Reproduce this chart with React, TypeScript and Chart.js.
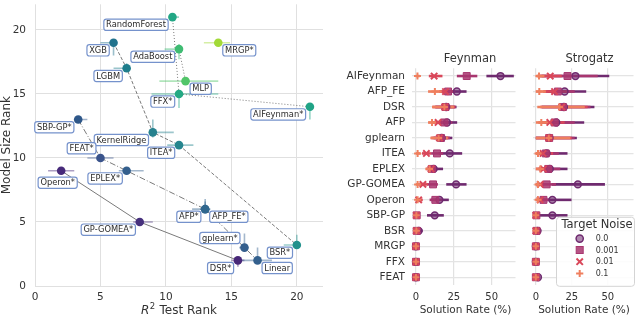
import React, { useEffect, useRef } from 'react';
import { Chart, registerables } from 'chart.js';

Chart.register(...registerables);

const FONT = "'DejaVu Sans', 'Noto Sans', sans-serif";
const TEXT = '#333333';

// ---------------- Left panel data (Pareto ranks) ----------------
const methods = ['RandomForest', 'XGB', 'AdaBoost', 'MRGP*', 'LGBM', 'MLP', 'FFX*', 'AIFeynman*', 'SBP-GP*', 'KernelRidge', 'ITEA*', 'FEAT*', 'EPLEX*', 'Operon*', 'AFP*', 'AFP_FE*', 'GP-GOMEA*', 'gplearn*', 'BSR*', 'DSR*', 'Linear'];
const r2TestRank = [10.5, 6, 11, 14, 7, 11.5, 11, 21, 3.3, 9, 11, 5, 7, 2, 13, 13, 8, 16, 20, 15.5, 17];
const modelSizeRank = [21, 19, 18.5, 19, 17, 16, 15, 14, 13, 12, 11, 10, 9, 9, 6, 6, 5, 3, 3.2, 2, 2];
const r2RankLo = [10.2, 5.0, 9.9, 12.9, 6.0, 9.5, 8.9, 20.8, 3.0, 8.8, 10.1, 4.0, 6.4, 1.0, 12.0, 12.6, 7.5, 15.6, 19.0, 15.0, 15.8];
const r2RankHi = [11.0, 6.2, 11.2, 14.9, 7.1, 14.0, 14.0, 21.2, 4.0, 10.6, 12.1, 6.0, 8.3, 3.0, 13.3, 13.4, 9.0, 16.3, 20.2, 16.0, 18.1];
const sizeRankLo = [20.8, 18.0, 17.7, 18.9, 16.8, 15.8, 13.9, 13.0, 12.8, 11.6, 10.8, 9.8, 8.8, 8.8, 5.8, 5.7, 4.9, 2.7, 2.9, 1.5, 1.8];
const sizeRankHi = [21.2, 19.2, 18.9, 19.1, 17.4, 16.3, 15.3, 14.2, 13.2, 13.0, 11.2, 10.2, 9.2, 9.2, 6.8, 6.6, 5.1, 4.1, 4.0, 2.1, 3.0];
const paretoFronts = [
  ['Operon*', 'GP-GOMEA*', 'DSR*'],
  ['SBP-GP*', 'FEAT*', 'EPLEX*', 'AFP*', 'gplearn*', 'Linear'],
  ['XGB', 'LGBM', 'KernelRidge', 'ITEA*', 'BSR*'],
  ['RandomForest', 'FFX*', 'AIFeynman*'],
  ['AdaBoost', 'MLP'],
];
const leftTicks = [0, 5, 10, 15, 20];

// ---------------- Right panels data (solution rates) ----------------
const categories = ['AIFeynman', 'AFP_FE', 'DSR', 'AFP', 'gplearn', 'ITEA', 'EPLEX', 'GP-GOMEA', 'Operon', 'SBP-GP', 'BSR', 'MRGP', 'FFX', 'FEAT'];
const noiseLevels = ['0.0', '0.001', '0.01', '0.1'];
const rateTicks = [0, 25, 50];

const feynman00 = [55.8, 27, 20, 20.5, 17, 22.3, 11.7, 26.5, 15.5, 12.4, 1.8, 0, 0, 0];
const feynman00Lo = [46.5, 21, 13, 15, 12, 15, 8, 20, 10, 7.3, 0, 0, 0, 0];
const feynman00Hi = [64.6, 33.4, 26.8, 27.2, 24, 30.5, 17.9, 33.4, 21.7, 18.4, 4.4, 0, 0, 0];
const feynman0001 = [33.5, 21.2, 19.5, 18.8, 16.5, 13.9, 10.5, 11.3, 12.8, 0.5, 0.5, 0, 0, 0];
const feynman0001Lo = [27, 16, 12.5, 14, 11, 10, 7, 7.5, 9, 0, 0, 0, 0, 0];
const feynman0001Hi = [40.5, 26, 26, 24, 22.5, 18, 14, 14.5, 17.5, 2.5, 2.5, 0, 0, 0];
const feynman001 = [12, 19.5, 19, 14.6, 15.5, 6.9, 10, 4.6, 1.8, 0.3, 0.3, 0, 0, 0];
const feynman001Lo = [8.5, 15, 11, 10, 10, 4, 7, 2, 0, 0, 0, 0, 0, 0];
const feynman001Hi = [17.5, 24, 26, 19, 21.5, 10, 13, 8, 4.5, 2, 1.5, 0, 0, 0];
const feynman01 = [1, 12.5, 18.8, 10.6, 15, 1.1, 9, 1.1, 1.1, 0.3, 0.3, 0, 0, 0];
const feynman01Lo = [0, 8, 10.6, 8, 9.5, 0, 6.2, 0, 0, 0, 0, 0, 0, 0];
const feynman01Hi = [2.5, 17, 25, 13.5, 21, 3, 12, 3.5, 3.5, 1.5, 1.5, 0, 0, 0];

const strogatz00 = [27.5, 20, 19.5, 14.2, 9.5, 7.5, 9.7, 29.2, 11.5, 11.5, 1.2, 0, 0, 1.5];
const strogatz00Lo = [4, 8, 4, 4, 0, 1, 2, 11, 3, 2, 0, 0, 0, 0];
const strogatz00Hi = [51, 35, 40.7, 33.6, 28.5, 22, 22, 48, 24.8, 22, 3, 0.5, 0.5, 3];
const strogatz0001 = [22, 15.3, 18.8, 13, 9.3, 6.9, 8.6, 7.5, 5.3, 0.4, 0.5, 0, 0, 0];
const strogatz0001Lo = [2, 6, 4, 4, 0, 1, 2, 2, 1, 0, 0, 0, 0, 0];
const strogatz0001Hi = [43, 27, 38, 27, 27, 16, 17, 14, 10, 2, 2, 0.5, 0.5, 0.5];
const strogatz001 = [10, 13, 18, 9.7, 9, 5, 5.3, 3, 3, 0, 0, 0, 0, 0];
const strogatz001Lo = [1, 5, 3, 2, 0, 0, 0, 0, 0, 0, 0, 0, 0, 0];
const strogatz001Hi = [18, 22, 36, 20, 25, 12, 12, 6, 6, 1, 1, 0.3, 0.3, 0.3];
const strogatz01 = [2.2, 2.4, 16.4, 3.8, 9, 1.5, 3.1, 1.5, 1.5, 0, 0, 0, 0, 0];
const strogatz01Lo = [0, 0, 1, 0, 0, 0, 0, 0, 0, 0, 0, 0, 0, 0];
const strogatz01Hi = [6, 7, 34, 10, 24, 5, 8, 3, 4, 1, 1, 0.3, 0.3, 0.3];

// ---------------- Styles ----------------
const methodColors: Record<string, string> = {
  'RandomForest': '#22a785', 'XGB': '#21728c', 'AdaBoost': '#3fbc73', 'MRGP*': '#a2da37',
  'LGBM': '#1f7e8c', 'MLP': '#52c569', 'FFX*': '#23a983', 'AIFeynman*': '#20a386',
  'SBP-GP*': '#2e5789', 'KernelRidge': '#26818e', 'ITEA*': '#25858e', 'FEAT*': '#3a548c',
  'EPLEX*': '#345f8d', 'Operon*': '#472a7a', 'AFP*': '#33638d', 'AFP_FE*': '#30678e',
  'GP-GOMEA*': '#46307d', 'gplearn*': '#355f8d', 'BSR*': '#21918c', 'DSR*': '#482878', 'Linear': '#34608d',
};
const labelPlacement: Record<string, string> = {
  'RandomForest': 'lb', 'XGB': 'lb', 'AdaBoost': 'lb', 'MRGP*': 'rb', 'LGBM': 'lb', 'MLP': 'rb',
  'FFX*': 'lb', 'AIFeynman*': 'lb', 'SBP-GP*': 'lb', 'KernelRidge': 'lb', 'ITEA*': 'lb', 'FEAT*': 'la',
  'EPLEX*': 'lb', 'Operon*': 'cb', 'AFP*': 'lb', 'AFP_FE*': 'rb', 'GP-GOMEA*': 'lb', 'gplearn*': 'la',
  'BSR*': 'lb', 'DSR*': 'lb', 'Linear': 'rb',
};
const frontDashes = [[], [6, 2, 1, 2], [3.5, 1.8], [1, 2], [1, 2]];
const noiseColors = ['#6f2a6f', '#a8366f', '#d9475a', '#ef7f5e'];
const noiseStyles = ['circle', 'rect', 'crossRot', 'cross'];

function rgba(hex: string, a: number) {
  const n = parseInt(hex.slice(1), 16);
  return `rgba(${(n >> 16) & 255},${(n >> 8) & 255},${n & 255},${a})`;
}

function roundRectPath(ctx: CanvasRenderingContext2D, x: number, y: number, w: number, h: number, r: number) {
  ctx.beginPath();
  ctx.moveTo(x + r, y);
  ctx.lineTo(x + w - r, y);
  ctx.quadraticCurveTo(x + w, y, x + w, y + r);
  ctx.lineTo(x + w, y + h - r);
  ctx.quadraticCurveTo(x + w, y + h, x + w - r, y + h);
  ctx.lineTo(x + r, y + h);
  ctx.quadraticCurveTo(x, y + h, x, y + h - r);
  ctx.lineTo(x, y + r);
  ctx.quadraticCurveTo(x, y, x + r, y);
  ctx.closePath();
}

function drawMarker(ctx: CanvasRenderingContext2D, k: number, x: number, y: number) {
  const c = noiseColors[k];
  ctx.save();
  if (k === 0) {
    ctx.beginPath(); ctx.arc(x, y, 3.6, 0, Math.PI * 2);
    ctx.fillStyle = rgba(c, 0.55); ctx.fill();
    ctx.strokeStyle = c; ctx.lineWidth = 1.5; ctx.stroke();
  } else if (k === 1) {
    ctx.fillStyle = rgba(c, 0.85); ctx.fillRect(x - 3.5, y - 3.5, 7, 7);
    ctx.strokeStyle = c; ctx.lineWidth = 1; ctx.strokeRect(x - 3.5, y - 3.5, 7, 7);
  } else if (k === 2) {
    ctx.strokeStyle = c; ctx.lineWidth = 2; ctx.beginPath();
    ctx.moveTo(x - 3.2, y - 3.2); ctx.lineTo(x + 3.2, y + 3.2);
    ctx.moveTo(x - 3.2, y + 3.2); ctx.lineTo(x + 3.2, y - 3.2); ctx.stroke();
  } else {
    ctx.strokeStyle = c; ctx.lineWidth = 2; ctx.beginPath();
    ctx.moveTo(x - 3.6, y); ctx.lineTo(x + 3.6, y);
    ctx.moveTo(x, y - 3.6); ctx.lineTo(x, y + 3.6); ctx.stroke();
  }
  ctx.restore();
}

// ---------------- Left chart ----------------
function buildLeft(canvas: HTMLCanvasElement) {
  const idx = (m: string) => methods.indexOf(m);
  const frontSets = paretoFronts.map((members, k) => ({
    type: 'scatter',
    label: 'front' + k,
    data: members.map((m) => ({ x: r2TestRank[idx(m)], y: modelSizeRank[idx(m)] })),
    showLine: true,
    borderColor: '#7a7a7a',
    borderWidth: 1,
    borderDash: frontDashes[k],
    pointRadius: 0,
    clip: false,
  }));
  const plugin = {
    id: 'leftDecor',
    beforeDatasetsDraw(chart: any) {
      const { ctx, scales: { x, y } } = chart;
      ctx.save();
      ctx.lineWidth = 1.6;
      methods.forEach((m, i) => {
        const px = x.getPixelForValue(r2TestRank[i]);
        const py = y.getPixelForValue(modelSizeRank[i]);
        ctx.strokeStyle = rgba(methodColors[m], 0.45);
        ctx.beginPath();
        ctx.moveTo(x.getPixelForValue(r2RankLo[i]), py);
        ctx.lineTo(x.getPixelForValue(r2RankHi[i]), py);
        ctx.moveTo(px, y.getPixelForValue(sizeRankLo[i]));
        ctx.lineTo(px, y.getPixelForValue(sizeRankHi[i]));
        ctx.stroke();
      });
      ctx.restore();
    },
    afterDatasetsDraw(chart: any) {
      const { ctx, scales: { x, y } } = chart;
      ctx.save();
      ctx.font = `8.3px ${FONT}`;
      ctx.textAlign = 'center';
      ctx.textBaseline = 'middle';
      methods.forEach((m, i) => {
        const px = x.getPixelForValue(r2TestRank[i]);
        const py = y.getPixelForValue(modelSizeRank[i]);
        const w = ctx.measureText(m).width + 4.5;
        const h = 11.3;
        let bx = px - 4.3 - w;
        let by = py + 2;
        const p = labelPlacement[m];
        if (p === 'rb') { bx = px + 4.5; }
        else if (p === 'la') { bx = px - 4.5 - w; by = py - 4 - h; }
        else if (p === 'cb') { bx = px - 3.5 - w / 2; by = py + 6.3; }
        roundRectPath(ctx, bx, by, w, h, 2.5);
        ctx.fillStyle = 'rgba(255,255,255,0.95)';
        ctx.fill();
        ctx.strokeStyle = '#7592cc';
        ctx.lineWidth = 1.2;
        ctx.stroke();
        ctx.fillStyle = '#2a2a2a';
        ctx.fillText(m, bx + w / 2, by + h / 2 + 0.5);
      });
      ctx.restore();
    },
    afterDraw(chart: any) {
      const { ctx, chartArea } = chart;
      ctx.save();
      ctx.fillStyle = TEXT;
      ctx.font = `12px ${FONT}`;
      ctx.textAlign = 'center';
      ctx.textBaseline = 'middle';
      ctx.translate(6.5, (chartArea.top + chartArea.bottom) / 2);
      ctx.rotate(-Math.PI / 2);
      ctx.fillText('Model Size Rank', 0, 0);
      ctx.restore();
      ctx.save();
      ctx.fillStyle = TEXT;
      ctx.textBaseline = 'alphabetic';
      ctx.textAlign = 'left';
      const fR = `italic 12px ${FONT}`, f2 = `8.5px ${FONT}`, fT = `12px ${FONT}`;
      ctx.font = fR; const wR = ctx.measureText('R').width;
      ctx.font = f2; const w2 = ctx.measureText('2').width;
      ctx.font = fT; const wT = ctx.measureText(' Test Rank').width;
      const total = wR + w2 + 1 + wT;
      let sx = (chartArea.left + chartArea.right) / 2 - total / 2;
      const base = 314;
      ctx.font = fR; ctx.fillText('R', sx, base); sx += wR + 0.5;
      ctx.font = f2; ctx.fillText('2', sx, base - 5); sx += w2 + 0.5;
      ctx.font = fT; ctx.fillText(' Test Rank', sx, base);
      ctx.restore();
    },
  };
  return new Chart(canvas, {
    type: 'scatter',
    data: {
      datasets: [
        {
          label: 'methods',
          data: methods.map((m, i) => ({ x: r2TestRank[i], y: modelSizeRank[i] })),
          pointRadius: 4.3,
          pointBackgroundColor: methods.map((m) => methodColors[m]),
          pointBorderWidth: 0,
          clip: false,
        },
        ...frontSets,
      ] as any,
    },
    options: {
      responsive: false,
      animation: false,
      layout: { padding: { left: 0, top: 0, right: 7, bottom: 0 } },
      plugins: { legend: { display: false }, tooltip: { enabled: false } },
      scales: {
        x: {
          type: 'linear', min: 0, max: 22,
          afterBuildTicks: (s: any) => { s.ticks = leftTicks.map((v) => ({ value: v })); },
          afterFit: (s: any) => { s.height = 30; s.paddingLeft = 0; s.paddingRight = 0; },
          grid: { color: '#e0e0e0', lineWidth: 1, drawTicks: false },
          border: { display: false },
          ticks: { padding: 5, color: TEXT, font: { family: FONT, size: 10.5 } },
        },
        y: {
          type: 'linear', min: 0, max: 22,
          afterBuildTicks: (s: any) => { s.ticks = leftTicks.map((v) => ({ value: v })); },
          afterFit: (s: any) => { s.width = 35; s.paddingTop = 0; s.paddingBottom = 0; },
          grid: { color: '#e0e0e0', lineWidth: 1, drawTicks: false },
          border: { display: false },
          ticks: { padding: 9, color: TEXT, font: { family: FONT, size: 10.5 } },
        },
      },
    } as any,
    plugins: [plugin],
  });
}

// ---------------- Right panels ----------------
function buildPanel(
  canvas: HTMLCanvasElement,
  means: number[][], los: number[][], his: number[][],
  title: string, titleX: number, xTitleX: number,
  xMin: number, xMax: number, axisWidth: number, padRight: number,
  showCats: boolean, withLegend: boolean,
) {
  const order = [3, 2, 1, 0];
  const datasets = order.map((k) => ({
    label: noiseLevels[k],
    data: categories.map((c, j) => ({ x: means[k][j], y: c })),
    pointStyle: noiseStyles[k],
    pointRadius: k === 0 ? 3.4 : k === 1 ? 4.9 : k === 2 ? 4.5 : 3.5,
    pointBackgroundColor: rgba(noiseColors[k], k === 0 ? 0.55 : 0.85),
    pointBorderColor: noiseColors[k],
    pointBorderWidth: k === 0 ? 1.5 : k === 1 ? 1 : 2,
    clip: false,
  }));
  const plugin = {
    id: 'panelDecor',
    beforeDatasetsDraw(chart: any) {
      const { ctx, scales: { x, y } } = chart;
      ctx.save();
      ctx.lineWidth = 2.6;
      ctx.lineCap = 'butt';
      for (let k = 0; k < 4; k++) {
        ctx.strokeStyle = noiseColors[k];
        categories.forEach((c, j) => {
          const lo = los[k][j], hi = his[k][j];
          if (hi - lo <= 0) return;
          const py = y.getPixelForValue(j);
          ctx.beginPath();
          ctx.moveTo(x.getPixelForValue(lo), py);
          ctx.lineTo(x.getPixelForValue(hi), py);
          ctx.stroke();
        });
      }
      ctx.restore();
    },
    afterDraw(chart: any) {
      const { ctx } = chart;
      ctx.save();
      ctx.fillStyle = TEXT;
      ctx.textAlign = 'center';
      ctx.textBaseline = 'middle';
      ctx.font = `11.5px ${FONT}`;
      ctx.fillText(title, titleX, 59);
      ctx.font = `10.5px ${FONT}`;
      ctx.fillText('Solution Rate (%)', xTitleX, 310.5);
      if (withLegend) {
        const bx = 34.5, by = 217.3, bw = 78, bh = 69;
        roundRectPath(ctx, bx, by, bw, bh, 3);
        ctx.fillStyle = 'rgba(255,255,255,0.88)';
        ctx.fill();
        ctx.strokeStyle = '#d4d4d4';
        ctx.lineWidth = 1;
        ctx.stroke();
        ctx.fillStyle = TEXT;
        ctx.font = `11.5px ${FONT}`;
        ctx.textAlign = 'center';
        ctx.fillText('Target Noise', 75, 225);
        const rows = [238.6, 250, 261.7, 273.5];
        ctx.font = `8px ${FONT}`;
        ctx.textAlign = 'left';
        noiseLevels.forEach((lab, k) => {
          drawMarker(ctx, k, 57.7, rows[k]);
          ctx.fillStyle = TEXT;
          ctx.fillText(lab, 73.7, rows[k] + 0.5);
        });
      }
      ctx.restore();
    },
  };
  return new Chart(canvas, {
    type: 'scatter',
    data: { labels: categories, datasets } as any,
    options: {
      responsive: false,
      animation: false,
      layout: { padding: { left: 0, top: 68.3, right: padRight, bottom: 0 } },
      plugins: { legend: { display: false }, tooltip: { enabled: false } },
      scales: {
        x: {
          type: 'linear', min: xMin, max: xMax,
          afterBuildTicks: (s: any) => { s.ticks = rateTicks.map((v) => ({ value: v })); },
          afterFit: (s: any) => { s.height = 31; s.paddingLeft = 0; s.paddingRight = 0; },
          grid: { color: '#e2e2e2', lineWidth: 1.2, drawTicks: false },
          border: { display: false },
          ticks: { padding: 6, color: TEXT, font: { family: FONT, size: 10 } },
        },
        y: {
          type: 'category', labels: categories, offset: true,
          afterFit: (s: any) => { s.width = axisWidth; s.paddingTop = 0; s.paddingBottom = 0; },
          grid: { color: '#e4e4e4', lineWidth: 1.3, drawTicks: false, offset: false },
          border: { display: false },
          ticks: { display: showCats, autoSkip: false, padding: 6.7, color: TEXT, font: { family: FONT, size: 10.5 } },
        },
      },
    } as any,
    plugins: [plugin],
  });
}

export default function App() {
  const leftRef = useRef<HTMLCanvasElement>(null);
  const feynRef = useRef<HTMLCanvasElement>(null);
  const strogRef = useRef<HTMLCanvasElement>(null);

  useEffect(() => {
    const charts: Chart[] = [];
    if (leftRef.current) charts.push(buildLeft(leftRef.current));
    if (feynRef.current) {
      charts.push(buildPanel(
        feynRef.current,
        [feynman00, feynman0001, feynman001, feynman01],
        [feynman00Lo, feynman0001Lo, feynman001Lo, feynman01Lo],
        [feynman00Hi, feynman0001Hi, feynman001Hi, feynman01Hi],
        'Feynman', 140, 135.5, -2.8, 65.7, 81.7, 5.3, true, false,
      ));
    }
    if (strogRef.current) {
      charts.push(buildPanel(
        strogRef.current,
        [strogatz00, strogatz0001, strogatz001, strogatz01],
        [strogatz00Lo, strogatz0001Lo, strogatz001Lo, strogatz01Lo],
        [strogatz00Hi, strogatz0001Hi, strogatz001Hi, strogatz01Hi],
        'Strogatz', 67.5, 62, -1.76, 67.84, 11.3, 0, false, true,
      ));
    }
    return () => charts.forEach((c) => c.destroy());
  }, []);

  return (
    <div style={{ position: 'fixed', left: 0, top: 0, width: 640, height: 316, background: '#ffffff', overflow: 'hidden' }}>
      <canvas ref={leftRef} width={330} height={316} style={{ position: 'absolute', left: 0, top: 0, width: 330, height: 316 }} />
      <canvas ref={feynRef} width={192} height={316} style={{ position: 'absolute', left: 330, top: 0, width: 192, height: 316 }} />
      <canvas ref={strogRef} width={118} height={316} style={{ position: 'absolute', left: 522, top: 0, width: 118, height: 316 }} />
    </div>
  );
}
